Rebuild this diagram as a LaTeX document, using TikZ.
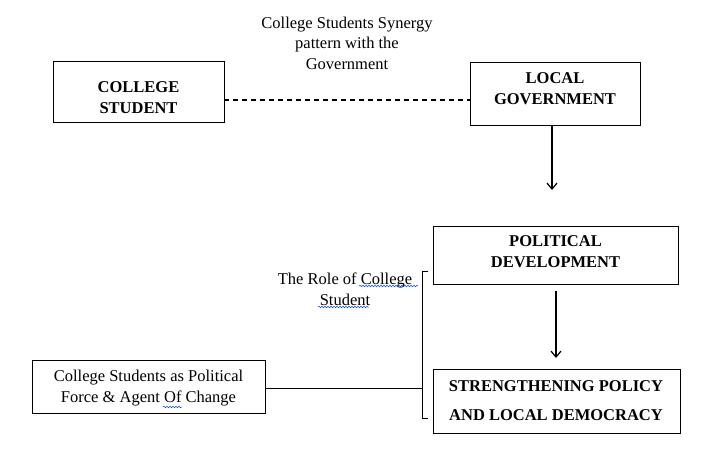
\documentclass[tikz,border=0pt]{standalone}
\usepackage{fontspec}
\setmainfont{Liberation Serif}
\usetikzlibrary{arrows.meta,decorations.pathmorphing}
\begin{document}
\begin{tikzpicture}[x=1pt,y=-1pt,
  bt/.style={font=\fontsize{16.5}{21}\selectfont\bfseries,align=center,inner sep=0pt},
  nt/.style={font=\fontsize{16.5}{20.5}\selectfont,align=center,inner sep=0pt},
  arr/.style={line width=1.2pt,-{Straight Barb[length=6pt,width=10pt]}},
  squig/.style={draw=blue!70!cyan,line width=0.5pt,decorate,decoration={snake,amplitude=0.8pt,segment length=3pt}}]
\useasboundingbox (0,0) rectangle (717,450);
% boxes
\draw[line width=0.8pt] (53,61) rectangle (224,122);
\node[bt] (cs) at (138.5,98) {COLLEGE\\STUDENT};
\draw[line width=0.8pt] (470,62) rectangle (640,125);
\node[bt] (lg) at (555,89) {LOCAL\\GOVERNMENT};
\draw[line width=0.8pt] (433,226) rectangle (678,284);
\node[bt] (pd) at (555.5,252) {POLITICAL\\DEVELOPMENT};
\draw[line width=0.8pt] (433,369) rectangle (680,433);
\node[bt,font=\fontsize{16.5}{29}\selectfont\bfseries] (sp) at (556,401) {STRENGTHENING POLICY\\AND LOCAL DEMOCRACY};
\draw[line width=0.8pt] (32,360) rectangle (265,413);
\node[nt] (cf) at (148.5,388) {College Students as Political\\Force \& Agent Of Change};
% title text
\node[nt] (title) at (347,43) {College Students Synergy\\pattern with the\\Government};
\node[nt,font=\fontsize{16.5}{21}\selectfont] (role) at (345,289) {The Role of College\\Student};
% connectors
\coordinate (csr) at (224,100);
\coordinate (lgl) at (470,100);
\draw[line width=1.3pt,dash pattern=on 5pt off 4pt] (csr) -- (lgl);
\coordinate (lgb) at (552,125);
\coordinate (a1) at (552,190);
\draw[arr] (lgb) -- (a1);
\coordinate (pdb) at (556,291);
\coordinate (a2) at (556,358);
\draw[arr] (pdb) -- (a2);
\coordinate (cfr) at (265,388);
\coordinate (br) at (422,388);
\draw[line width=0.8pt] (cfr) -- (br);
\coordinate (bt1) at (428,271);
\coordinate (bb1) at (428,418);
\draw[line width=0.8pt] (bt1) -- (422,271) -- (422,418) -- (bb1);
% spell-check squiggles
\draw[squig] (359,286) -- (418,286);
\draw[squig] (318,307) -- (369,307);
\draw[squig] (163,407) -- (182,407);
\end{tikzpicture}
\end{document}
